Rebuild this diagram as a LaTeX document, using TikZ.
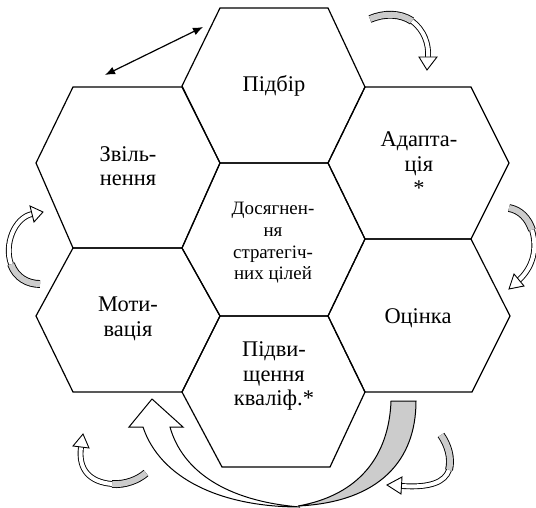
\documentclass[tikz,border=0pt]{standalone}
\usepackage{fontspec}
\setmainfont{Liberation Serif}
\usepackage{tikz}
\usetikzlibrary{arrows.meta}
\tikzset{>={Latex[length=10bp,width=8bp]}}
\tikzset{
  hexa/.style={draw=black, line width=1.2bp, line join=miter},
  lbl/.style={align=center, inner sep=0pt, font=\fontsize{22.5}{24.5}\selectfont},
  midlbl/.style={align=center, inner sep=0pt, font=\fontsize{19}{21.7}\selectfont},
  band/.style={draw=black, line width=0.9bp, double distance=#1},
  headtri/.style={draw=black, fill=white, line width=0.9bp, line join=miter},
  bigpart/.style={draw=black, line width=1bp, line join=miter}
}

\begin{document}
\begin{tikzpicture}[x=1bp,y=-1bp]
  \useasboundingbox (0,0) rectangle (536,508);

  % шестикутники
  \draw[hexa] (182,86)--(220,8)--(328,8)--(365,87)--(328,163)--(220,163)--cycle;    % Підбір
  \draw[hexa] (328,163)--(365,87)--(471,87)--(509,163)--(471,239)--(365,239)--cycle; % Адаптація
  \draw[hexa] (328,316)--(365,239)--(471,239)--(510,316)--(472,392)--(365,392)--cycle; % Оцінка
  \draw[hexa] (182,392)--(220,316)--(328,316)--(365,392)--(330,467)--(222,467)--cycle; % Підвищення
  \draw[hexa] (36,316)--(73,248)--(182,248)--(220,316)--(182,392)--(73,392)--cycle;  % Мотивація
  \draw[hexa] (36,163)--(73,87)--(182,87)--(220,163)--(182,248)--(73,248)--cycle;    % Звільнення
  \draw[hexa] (182,248)--(220,163)--(328,163)--(365,239)--(328,316)--(220,316)--cycle; % центр

  \node[lbl] (pidbir) at (274,86) {Підбір};
  \node[lbl] (adapt) at (419,164) {Адапта-\\ція\\*};
  \node[lbl] (otsinka) at (418,318) {Оцінка};
  \node[lbl] (kvalif) at (274,376) {Підви-\\щення\\кваліф.*};
  \node[lbl] (motyv) at (128,319) {Моти-\\вація};
  \node[lbl] (zvil) at (128,166) {Звіль-\\нення};
  \node[midlbl] (tsili) at (273,243) {Досягнен-\\ня\\стратегіч-\\них цілей};

  % пряма двобічна стрілка
  \coordinate (zl) at (105,75);
  \coordinate (pr) at (203,27);
  \draw[<->, line width=1.2bp] (zl) -- (pr);

  % малі вигнуті стрілки: сіра частина -- хвіст, біла -- до вістря
  \draw[band=6bp, double=gray!40] (370,19) .. controls (384,13) and (400,13) .. (412,21);
  \draw[band=4bp, double=white] (412,21) .. controls (424,30) and (429,44) .. (428,57);
  \draw[headtri] (419,57) -- (437,57) -- (427,70) -- cycle;

  \draw[band=6bp, double=gray!40] (509,208) .. controls (520,210) and (528,218) .. (532,230);
  \draw[band=4bp, double=white] (532,230) .. controls (538,250) and (532,268) .. (519,280);
  \draw[headtri] (514,274) -- (524,286) -- (509,289) -- cycle;

  \draw[band=6bp, double=gray!40] (40,284) .. controls (28,284) and (16,278) .. (11,264);
  \draw[band=4bp, double=white] (11,264) .. controls (4,245) and (14,218) .. (32,214);
  \draw[headtri] (30,206) -- (34,222) -- (43,212) -- cycle;

  \draw[band=6bp, double=gray!40] (146,473) .. controls (138,480) and (125,485) .. (112,484);
  \draw[band=4bp, double=white] (112,484) .. controls (90,482) and (78,470) .. (81,447);
  \draw[headtri] (73,446) -- (89,448) -- (83,434) -- cycle;

  \draw[band=6bp, double=gray!40] (441,435) .. controls (448,445) and (452,458) .. (449,470);
  \draw[band=4bp, double=white] (449,470) .. controls (445,482) and (430,488) .. (402,486);
  \draw[headtri] (402,477) -- (401,494) -- (387,485) -- cycle;

  % велика стрілка знизу
  \draw[bigpart, fill=gray!40] (298,506) .. controls (380,502) and (416,460) .. (416,401)
        -- (391,401) .. controls (389,455) and (360,495) .. (298,506) -- cycle;
  \draw[bigpart, fill=white] (170,427) -- (183,427) -- (152,399) -- (129,427) -- (143,427)
        .. controls (160,478) and (220,507) .. (300,507)
        .. controls (225,501) and (182,470) .. (170,427) -- cycle;
\end{tikzpicture}
\end{document}
